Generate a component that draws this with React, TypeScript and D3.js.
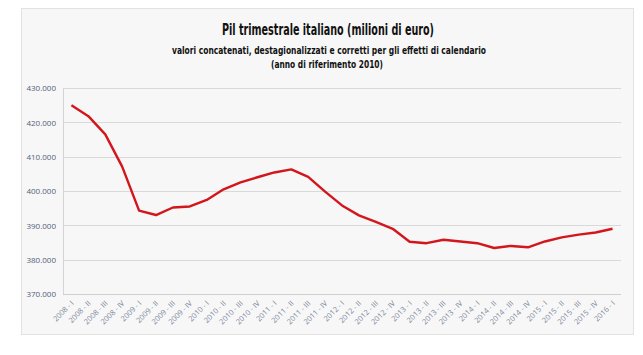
import React from "react";
import * as d3 from "d3";

const quarters: string[] = [
  "2008 - I", "2008 - II", "2008 - III", "2008 - IV",
  "2009 - I", "2009 - II", "2009 - III", "2009 - IV",
  "2010 - I", "2010 - II", "2010 - III", "2010 - IV",
  "2011 - I", "2011 - II", "2011 - III", "2011 - IV",
  "2012 - I", "2012 - II", "2012 - III", "2012 - IV",
  "2013 - I", "2013 - II", "2013 - III", "2013 - IV",
  "2014 - I", "2014 - II", "2014 - III", "2014 - IV",
  "2015 - I", "2015 - II", "2015 - III", "2015 - IV",
  "2016 - I",
];

// PIL, thousands of millions (displayed as e.g. 430.000)
const pil: number[] = [
  425.0, 421.8, 416.5, 407.1,
  394.3, 393.0, 395.2, 395.5,
  397.4, 400.5, 402.5, 404.0,
  405.4, 406.3, 404.1, 399.8,
  395.8, 392.9, 391.0, 389.0,
  385.2, 384.8, 385.8, 385.3,
  384.8, 383.4, 384.0, 383.6,
  385.3, 386.5, 387.3, 387.9,
  389.0,
];

const yTicks: number[] = [370, 380, 390, 400, 410, 420, 430];

const titleLines: string[] = [
  "Pil trimestrale italiano (milioni di euro)",
  "valori concatenati, destagionalizzati e corretti per gli effetti di calendario",
  "(anno di riferimento 2010)",
];

const W = 643;
const H = 355;
const plot = { left: 63, right: 621, top: 88, bottom: 294 };
const condensed = "'Liberation Sans Narrow', 'DejaVu Sans Condensed', 'Arial Narrow', sans-serif";
const labelFont = "'Open Sans', 'Liberation Sans', sans-serif";

export default function App() {
  const x = d3.scaleBand<string>().domain(quarters).range([plot.left, plot.right]);
  const cx = (q: string) => (x(q) as number) + x.bandwidth() / 2;
  const y = d3.scaleLinear().domain([370, 430]).range([plot.bottom, plot.top]);
  const fmt = (v: number) => d3.format(",.0f")(v * 1000).replace(/,/g, ".");
  const line = d3
    .line<number>()
    .x((_, i) => cx(quarters[i]))
    .y((d) => y(d));

  return (
    <svg
      width={W}
      height={H}
      style={{ position: "absolute", left: 0, top: 0, background: "#ffffff" }}
    >
      <rect x={21.5} y={8.5} width={612} height={326} fill="#f7f7f7" stroke="#e2e2e2" strokeWidth={1} />

      <text x={328} y={35} textAnchor="middle" fontFamily={condensed} fontWeight="bold" fontSize={15.5}
        textLength={212} lengthAdjust="spacingAndGlyphs" fill="#111">
        {titleLines[0]}
      </text>
      <text x={329} y={54} textAnchor="middle" fontFamily={condensed} fontWeight="bold" fontSize={10.5}
        textLength={314} lengthAdjust="spacingAndGlyphs" fill="#111">
        {titleLines[1]}
      </text>
      <text x={327} y={68} textAnchor="middle" fontFamily={condensed} fontWeight="bold" fontSize={10.5}
        textLength={112} lengthAdjust="spacingAndGlyphs" fill="#111">
        {titleLines[2]}
      </text>

      {yTicks.map((t) => (
        <g key={t}>
          <line x1={plot.left} x2={plot.right} y1={Math.round(y(t)) + 0.5} y2={Math.round(y(t)) + 0.5}
            stroke={t === 370 ? "#cfcfcf" : "#d9d9d9"} strokeWidth={1} />
          <text x={56} y={y(t)} dy="0.4em" textAnchor="end" fontFamily={labelFont} fontSize={8}
            fill="#52607a">
            {fmt(t)}
          </text>
        </g>
      ))}
      <line x1={plot.left + 0.5} x2={plot.left + 0.5} y1={plot.top} y2={plot.bottom} stroke="#d4d4d4" />

      {quarters.map((q) => {
        const px = cx(q) + 1;
        const py = 302;
        return (
          <text key={q} x={px} y={py} dy="0.35em" textAnchor="end" fontFamily={labelFont} fontSize={7.5}
            fill="#7a879c" transform={`rotate(-45 ${px} ${py})`}>
            {q}
          </text>
        );
      })}

      <path d={line(pil) ?? ""} fill="none" stroke="#d3161c" strokeWidth={2.4} strokeLinejoin="round" />
    </svg>
  );
}
